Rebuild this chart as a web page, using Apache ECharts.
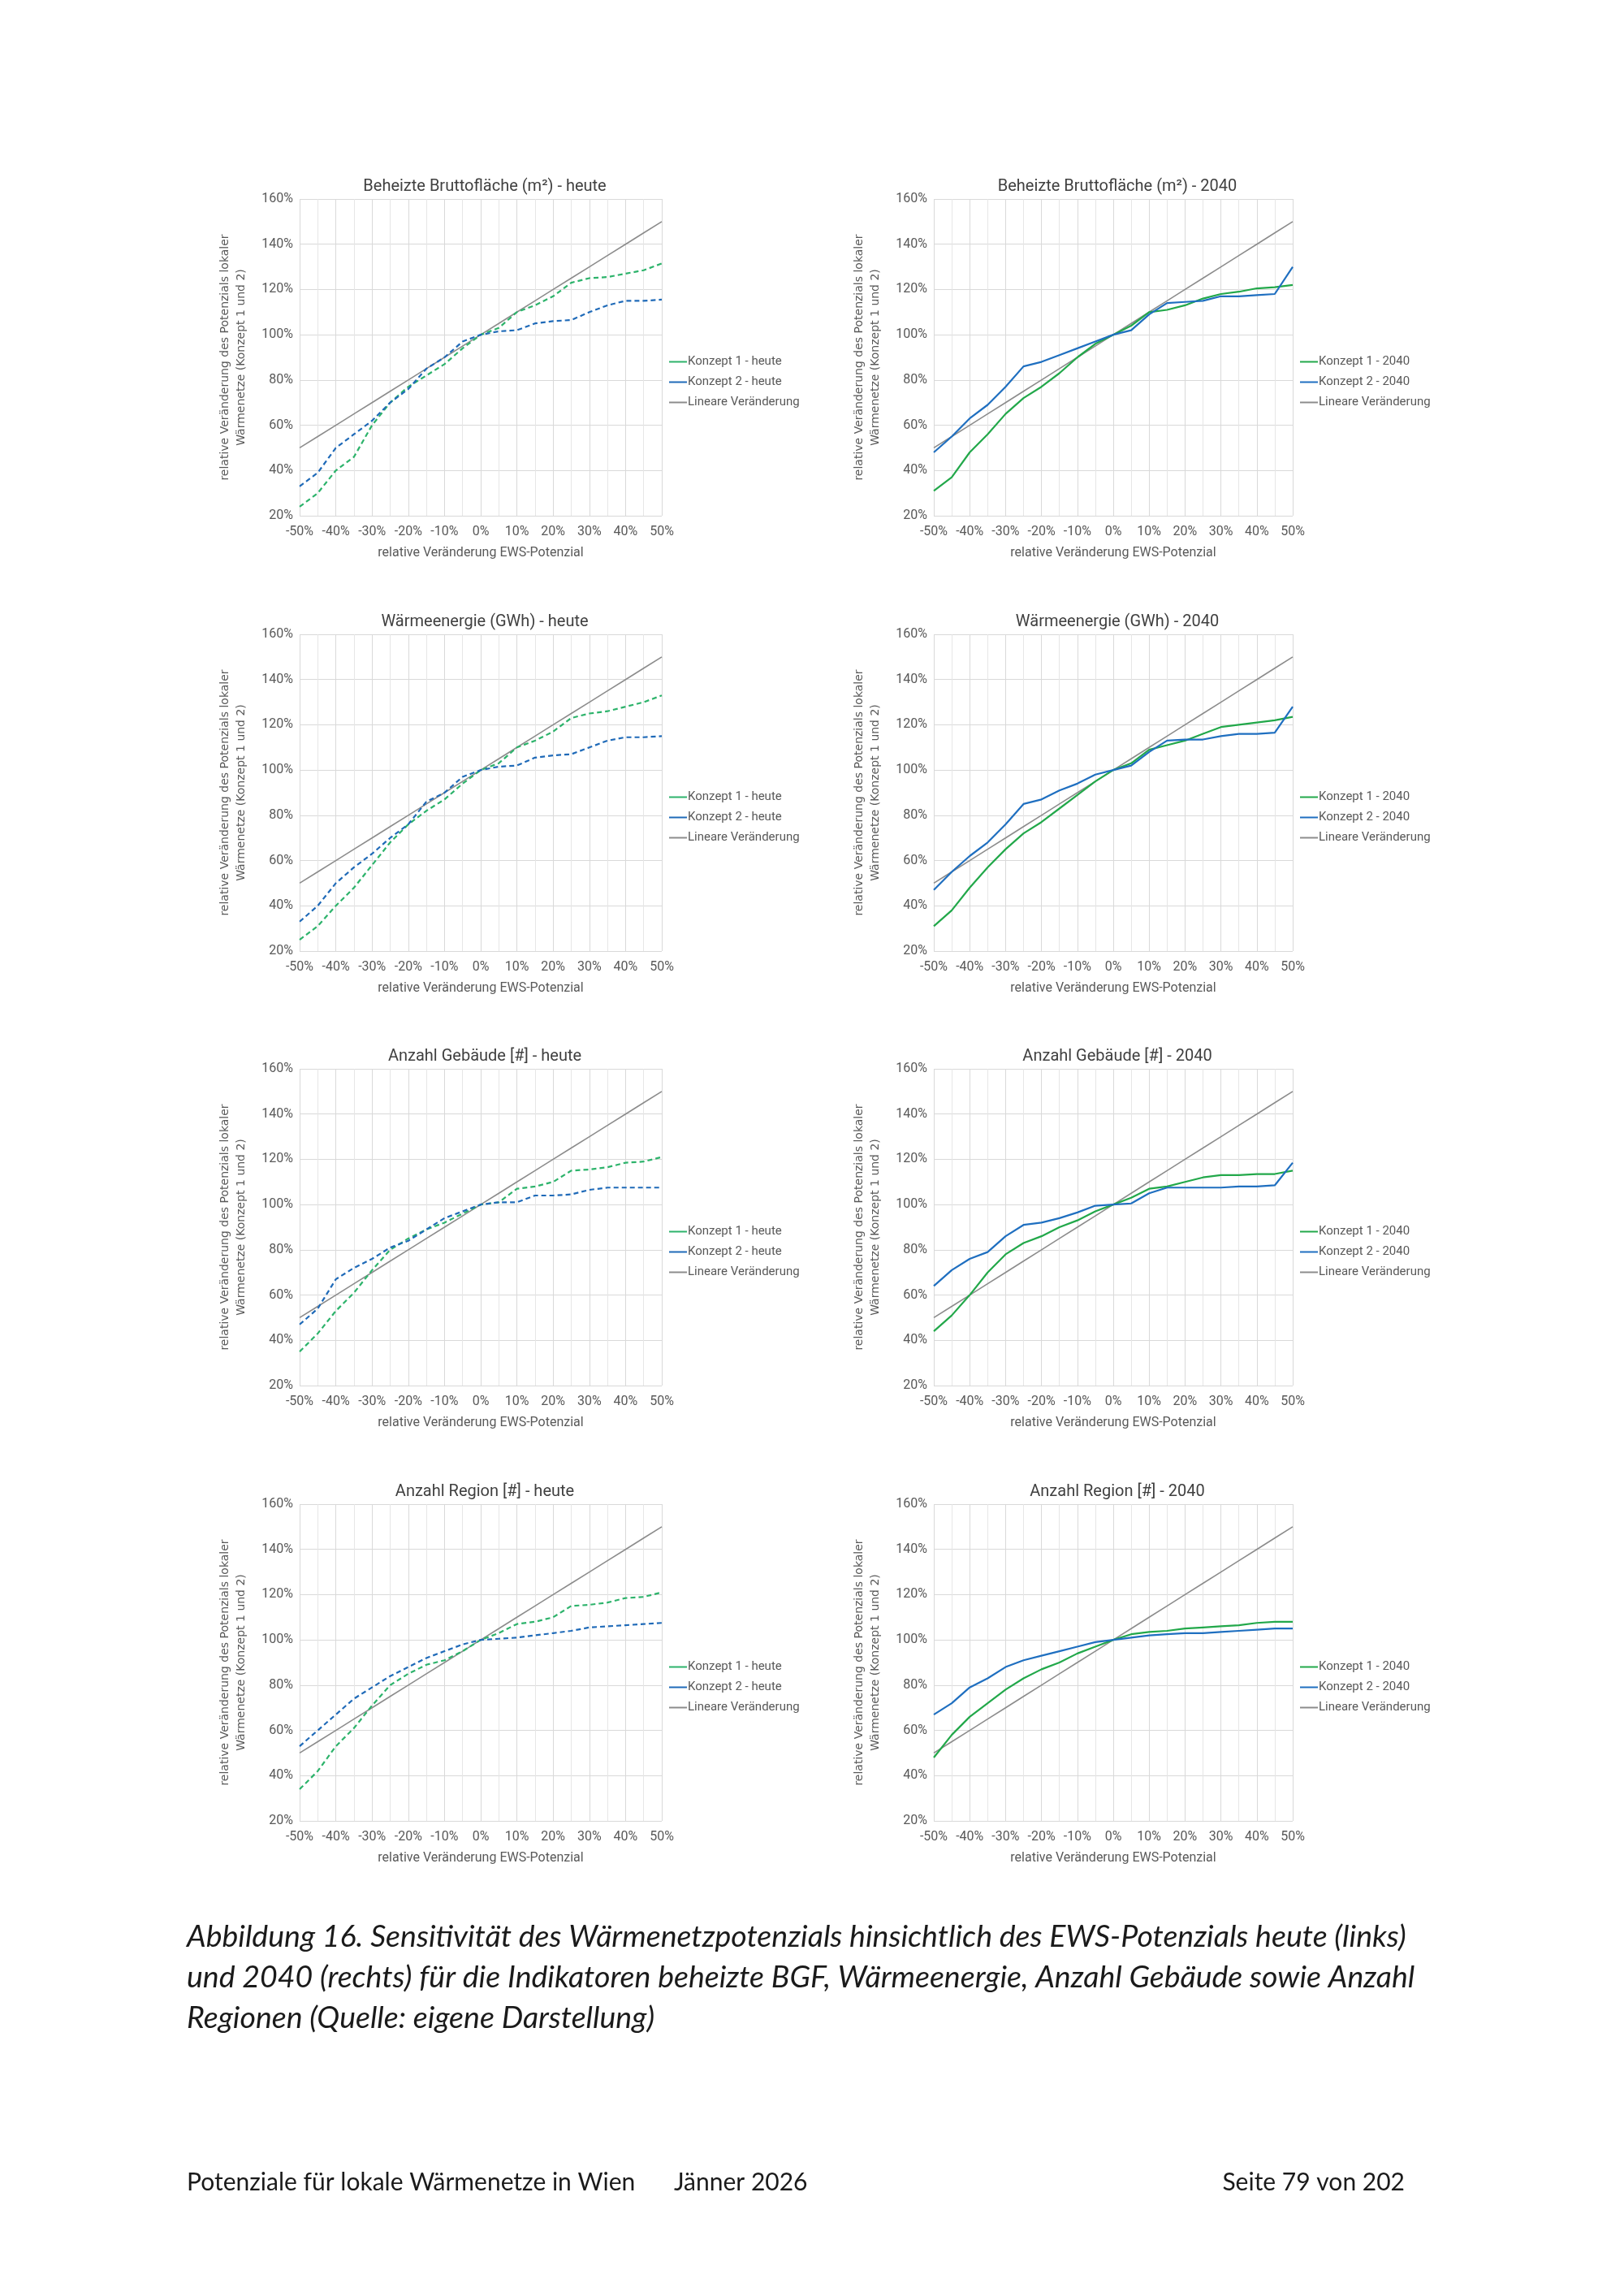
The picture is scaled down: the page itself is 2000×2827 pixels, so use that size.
<!DOCTYPE html>
<html><head><meta charset="utf-8">
<script src="https://cdn.jsdelivr.net/npm/echarts@6/dist/echarts.min.js"></script>
<style>html,body{margin:0;padding:0;background:#fff}#c{width:2000px;height:2827px}</style>
</head><body><div id="c"></div>
<script>
const xVals = [-50,-45,-40,-35,-30,-25,-20,-15,-10,-5,0,5,10,15,20,25,30,35,40,45,50];
const linear = [50,55,60,65,70,75,80,85,90,95,100,105,110,115,120,125,130,135,140,145,150];
const titles = ['Beheizte Bruttofläche (m²) - heute','Beheizte Bruttofläche (m²) - 2040','Wärmeenergie (GWh) - heute','Wärmeenergie (GWh) - 2040','Anzahl Gebäude [#] - heute','Anzahl Gebäude [#] - 2040','Anzahl Region [#] - heute','Anzahl Region [#] - 2040'];
const bgfHeuteK1 = [24,30,40,46,60,70,77,82,87,94,100,103,110,113,117,123,125,125.5,127,128.5,131.5];
const bgfHeuteK2 = [33,39,50,56,62,70,76,85,90,97,100,101.5,102,105,106,106.5,110,113,115,115,115.5];
const bgf2040K1 = [31,37,48,56,65,72,77,83,90,96,100,104,110,111,113,116,118,119,120.5,121,122];
const bgf2040K2 = [48,55,63,69,77,86,88,91,94,97,100,102,109,114,114.5,115,117,117,117.5,118,130];
const wHeuteK1 = [25,31,40,48,58,68,76,82,87,94,100,103,110,113,117,123,125,126,128,130,133];
const wHeuteK2 = [33,40,50,57,63,70,76,86,90,97,100,101.5,102,105.5,106.5,107,110,113,114.5,114.5,115];
const w2040K1 = [31,38,48,57,65,72,77,83,89,95,100,103,109,111,113,116,119,120,121,122,123.5];
const w2040K2 = [47,55,62,68,76,85,87,91,94,98,100,102,108,113,113.5,113.5,115,116,116,116.5,128];
const gHeuteK1 = [35,43,53,61,71,80,85,89,92,96,100,101,107,108,110,115,115.5,116.5,118.5,119,121];
const gHeuteK2 = [47,54,67,72,76,81,84,89,94,97,100,101,101,104,104,104.5,106.5,107.5,107.5,107.5,107.5];
const g2040K1 = [44,51,60,70,78,83,86,90,93,97,100,103,107,108,110,112,113,113,113.5,113.5,115];
const g2040K2 = [64,71,76,79,86,91,92,94,96.5,99.5,100,100.5,105,107.5,107.5,107.5,107.5,108,108,108.5,118.5];
const rHeuteK1 = [34,42,53,61,71,80,85,89,91,95,100,103,107,108,110,115,115.5,116.5,118.5,119,121];
const rHeuteK2 = [53,60,67,74,79,84,88,92,95,98,100,100.5,101,102,103,104,105.5,106,106.5,107,107.5];
const r2040K1 = [48,58,66,72,78,83,87,90,94,97,100,102.5,103.5,104,105,105.5,106,106.5,107.5,108,108];
const r2040K2 = [67,72,79,83,88,91,93,95,97,99,100,101,102,102.5,103,103,103.5,104,104.5,105,105];

const panels = [
 [bgfHeuteK1,bgfHeuteK2],[bgf2040K1,bgf2040K2],
 [wHeuteK1,wHeuteK2],[w2040K1,w2040K2],
 [gHeuteK1,gHeuteK2],[g2040K1,g2040K2],
 [rHeuteK1,rHeuteK2],[r2040K1,r2040K2]
];
const lefts=[369,1150], widths=[446,442];
const tops=[245,781,1316,1852], h=390;
const font='Liberation Sans Narrow, Roboto, sans-serif';
const grid=[],xAxis=[],yAxis=[],series=[],title=[],legend=[];
panels.forEach((p,i)=>{
  const col=i%2,row=Math.floor(i/2),heute=col===0;
  const suffix=heute?'heute':'2040';
  grid.push({left:lefts[col],top:tops[row],width:widths[col],height:h});
  title.push({text:titles[i],left:lefts[col]+widths[col]/2,top:tops[row]-30,textAlign:'center',
    textStyle:{fontFamily:font,fontSize:20,fontWeight:'normal',color:'#404040'}});
  xAxis.push({type:'value',gridIndex:i,min:-50,max:50,interval:10,
    name:'relative Veränderung EWS-Potenzial',nameLocation:'middle',nameGap:38,
    nameTextStyle:{fontFamily:font,fontSize:16,color:'#595959'},
    axisLine:{show:false},axisTick:{show:false},
    axisLabel:{formatter:v=>v+'%',fontFamily:font,fontSize:16,color:'#595959',margin:12},
    splitLine:{lineStyle:{color:'#d9d9d9'}},minorTick:{show:false,splitNumber:2},minorSplitLine:{show:true,lineStyle:{color:'#e6e6e6'}}});
  yAxis.push({type:'value',gridIndex:i,min:20,max:160,interval:20,
    name:'relative Veränderung des Potenzials lokaler\nWärmenetze (Konzept 1 und 2)',nameLocation:'middle',nameGap:62,
    nameTextStyle:{fontFamily:'DejaVu Sans, sans-serif',fontSize:14,color:'#595959',lineHeight:20},
    axisLine:{show:false},axisTick:{show:false},
    axisLabel:{formatter:v=>v+'%',fontFamily:font,fontSize:16,color:'#595959'},
    splitLine:{lineStyle:{color:'#d9d9d9'}}});
  const n1='Konzept 1 - '+suffix+'\u200b'.repeat(i), n2='Konzept 2 - '+suffix+'\u200b'.repeat(i), n3='Lineare Veränderung'+'\u200b'.repeat(i);
  const g=heute?'#2db36b':'#22a84a', b=heute?'#1f6ab8':'#1f6fc0';
  const mk=(name,data,color,type,w)=>({name,type:'line',xAxisIndex:i,yAxisIndex:i,showSymbol:false,symbol:'none',
    data:xVals.map((x,k)=>[x,data[k]]),lineStyle:{color,width:w,type},itemStyle:{color},z:name.startsWith('Lin')?1:2});
  series.push(mk(n3,linear,'#8c8c8c','solid',1.6));
  series.push(mk(n1,p[0],g,heute?[6,4]:'solid',2.2));
  series.push(mk(n2,p[1],b,heute?[6,4]:'solid',2.2));
  legend.push({orient:'vertical',left:lefts[col]+widths[col]+4,top:tops[row]+188,itemGap:10,itemWidth:22,itemHeight:10,
    data:[n1,n2,n3].map(n=>({name:n,icon:'path://M0,4 L22,4 L22,6 L0,6 Z'})),
    formatter:n=>n.replace(/\u200b/g,'').trim(),
    textStyle:{fontFamily:font,fontSize:15,color:'#595959',padding:[0,0,0,-4]}});
});
const chart=echarts.init(document.getElementById('c'),null,{renderer:'canvas'});
chart.setOption({backgroundColor:'#fff',animation:false,title,grid,xAxis,yAxis,series,legend,
  graphic:[
   {type:'text',left:230,top:2360,style:{text:'Abbildung 16. Sensitivität des Wärmenetzpotenzials hinsichtlich des EWS-Potenzials heute (links)\nund 2040 (rechts) für die Indikatoren beheizte BGF, Wärmeenergie, Anzahl Gebäude sowie Anzahl\nRegionen (Quelle: eigene Darstellung)',
     font:'italic 37.5px Lato, "Open Sans", sans-serif',fill:'#1a1a1a',lineHeight:50}},
   {type:'text',left:230,top:2672,style:{text:'Potenziale für lokale Wärmenetze in Wien',font:'30px Lato, sans-serif',fill:'#1a1a1a'}},
   {type:'text',left:830,top:2672,style:{text:'Jänner 2026',font:'30px Lato, sans-serif',fill:'#1a1a1a'}},
   {type:'text',right:270,top:2672,style:{text:'Seite 79 von 202',font:'30px Lato, sans-serif',fill:'#1a1a1a',align:'right'}}
  ]});
</script></body></html>
